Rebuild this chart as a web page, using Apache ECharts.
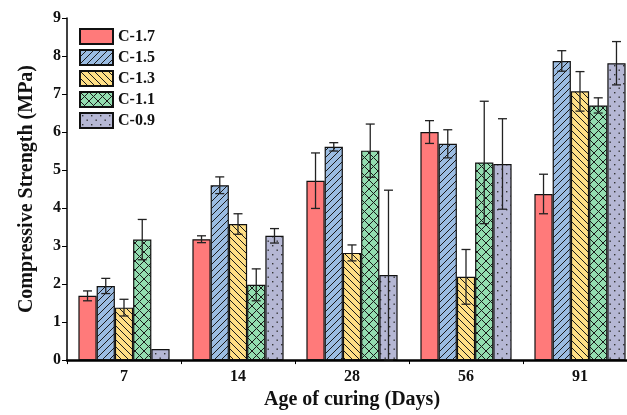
<!DOCTYPE html>
<html><head><meta charset="utf-8">
<script src="https://cdn.jsdelivr.net/npm/echarts@6/dist/echarts.min.js"></script>
<style>html,body{margin:0;padding:0;background:#fff;overflow:hidden;width:627px;height:415px}#c{width:637px;height:415px}</style>
</head><body><div id="c"></div>
<script>
const categories = ['7', '14', '28', '56', '91'];
const seriesNames = ['C-1.7', 'C-1.5', 'C-1.3', 'C-1.1', 'C-0.9'];
const valC17 = [1.69, 3.18, 4.72, 6.00, 4.37];
const errC17 = [0.13, 0.09, 0.73, 0.30, 0.52];
const valC15 = [1.95, 4.60, 5.61, 5.69, 7.87];
const errC15 = [0.20, 0.22, 0.11, 0.37, 0.27];
const valC13 = [1.38, 3.58, 2.82, 2.19, 7.07];
const errC13 = [0.22, 0.27, 0.21, 0.72, 0.52];
const valC11 = [3.17, 1.98, 5.51, 5.20, 6.70];
const errC11 = [0.53, 0.42, 0.70, 1.61, 0.20];
const valC09 = [0.29, 3.27, 2.24, 5.16, 7.81];
const errC09 = [0.00, 0.19, 2.23, 1.19, 0.57];
const yTicks = [0, 1, 2, 3, 4, 5, 6, 7, 8, 9];

const values = [valC17, valC15, valC13, valC11, valC09];
const errors = [errC17, errC15, errC13, errC11, errC09];

function makePattern(bg, kind) {
  const s = kind === 'dots' ? 9 : (kind === 'cross' ? 9 : 7);
  const c = document.createElement('canvas');
  c.width = s; c.height = s;
  const g = c.getContext('2d');
  g.fillStyle = bg; g.fillRect(0, 0, s, s);
  g.strokeStyle = '#1a1a1a'; g.lineWidth = 1;
  if (kind === 'fwd' || kind === 'cross') {
    g.beginPath(); g.moveTo(-1, s + 1); g.lineTo(s + 1, -1); g.stroke();
    g.beginPath(); g.moveTo(-1, 1); g.lineTo(1, -1); g.stroke();
    g.beginPath(); g.moveTo(s - 1, s + 1); g.lineTo(s + 1, s - 1); g.stroke();
  }
  if (kind === 'back' || kind === 'cross') {
    g.beginPath(); g.moveTo(-1, -1); g.lineTo(s + 1, s + 1); g.stroke();
    g.beginPath(); g.moveTo(s - 1, -1); g.lineTo(s + 1, 1); g.stroke();
    g.beginPath(); g.moveTo(-1, s - 1); g.lineTo(1, s + 1); g.stroke();
  }
  if (kind === 'dots') {
    g.fillStyle = '#333';
    g.fillRect(2, 2, 1.4, 1.4);
    g.fillRect(6.5, 6.5, 1.4, 1.4);
  }
  return { image: c, repeat: 'repeat' };
}

const fills = [
  '#FF7A7A',
  makePattern('#9BBCE2', 'fwd'),
  makePattern('#FFDF85', 'back'),
  makePattern('#93DDB0', 'cross'),
  makePattern('#B5B7D4', 'dots')
];

const barSeries = seriesNames.map((n, i) => ({
  name: n, type: 'bar', data: values[i],
  barGap: '0%', barCategoryGap: '20%',
  itemStyle: { color: fills[i], borderColor: '#111', borderWidth: 1.2 },
  z: 2
}));

const errSeries = seriesNames.map((n, i) => ({
  name: n, type: 'custom', z: 5,
  data: values[i].map((v, j) => [j, v, errors[i][j]]),
  renderItem: function (params, api) {
    const j = api.value(0), v = api.value(1), e = api.value(2);
    if (!e) return null;
    const band = api.size([1, 0])[0];
    const bw = band * 0.8 / 5;
    const center = api.coord([j, v]);
    const x = center[0] + (i - 2) * bw;
    const yHi = api.coord([j, v + e])[1];
    const yLo = api.coord([j, v - e])[1];
    const cap = 4.5;
    const st = { stroke: '#222', lineWidth: 1.3 };
    return { type: 'group', children: [
      { type: 'line', shape: { x1: x, y1: yHi, x2: x, y2: yLo }, style: st },
      { type: 'line', shape: { x1: x - cap, y1: yHi, x2: x + cap, y2: yHi }, style: st },
      { type: 'line', shape: { x1: x - cap, y1: yLo, x2: x + cap, y2: yLo }, style: st }
    ]};
  }
}));

const font = 'Liberation Serif';
const chart = echarts.init(document.getElementById('c'));
chart.setOption({
  animation: false,
  backgroundColor: '#fff',
  grid: { left: 67, right: 0, top: 18, height: 343 },
  legend: {
    data: seriesNames, orient: 'vertical', left: 79, top: 28, padding: 0,
    icon: 'rect',
    itemWidth: 33, itemHeight: 15, itemGap: 4,
    textStyle: { fontFamily: font, fontWeight: 'bold', fontSize: 16, color: '#111' }
  },
  xAxis: {
    type: 'category', data: categories,
    name: 'Age of curing (Days)', nameLocation: 'middle', nameGap: 29,
    nameTextStyle: { fontFamily: font, fontWeight: 'bold', fontSize: 20, color: '#111' },
    axisLine: { lineStyle: { color: '#000', width: 2.5 } },
    axisTick: { show: true, length: 4, inside: false, lineStyle: { color: '#000' } },
    axisLabel: { fontFamily: font, fontWeight: 'bold', fontSize: 16, color: '#111', margin: 9 }
  },
  yAxis: {
    type: 'value', min: 0, max: 9, interval: 1,
    name: 'Compressive Strength (MPa)', nameLocation: 'middle', nameGap: 30,
    nameTextStyle: { fontFamily: font, fontWeight: 'bold', fontSize: 20, color: '#111' },
    axisLine: { show: true, lineStyle: { color: '#000', width: 1.5 } },
    axisTick: { show: true, length: 5, lineStyle: { color: '#000' } },
    axisLabel: { fontFamily: font, fontWeight: 'bold', fontSize: 16, color: '#111', margin: 6,
      formatter: v => yTicks.includes(v) ? String(v) : '' },
    splitLine: { show: false }
  },
  series: barSeries.concat(errSeries)
});
</script></body></html>
